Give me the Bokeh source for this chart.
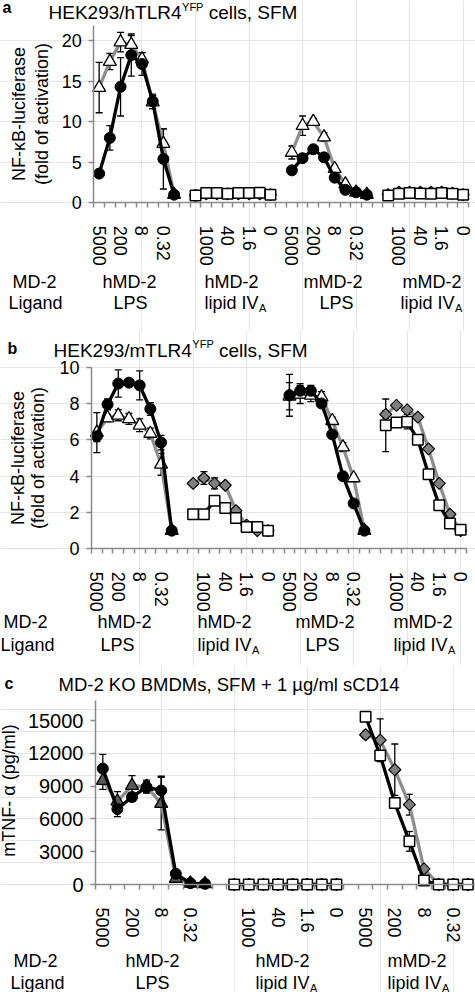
import math
from bokeh.plotting import figure
from bokeh.layouts import column
from bokeh.models import Range1d, FixedTicker, Label, Whisker, TeeHead, ColumnDataSource, LinearAxis
from bokeh.embed import file_html
from bokeh.resources import INLINE

FONT = "Liberation Sans"
GREY = "#8e8e8e"
AXGREY = "#8a8a8a"
W = 475
TEXT_DY = -4

# ---------------- data ----------------
conc_labels = ["5000", "1000", "200", "40", "8", "1.6", "0.32", "0"]

# panel a : HEK293/hTLR4
a_hlps_circ = [3.6, 8.0, 14.3, 18.2, 17.1, 12.5, 5.4, 1.0]
a_hlps_circ_err = [0.3, 1.5, 3.6, 2.6, 1.4, 0.9, 3.7, 0.1]
a_hlps_tri = [14.2, 17.4, 19.8, 19.5, 17.7, 12.4, 7.3, 1.0]
a_hlps_tri_err = [3.1, 1.0, 1.2, 1.1, 0.8, 0.8, 1.8, 0.1]
a_hlip_dia = [0.9, 1.1, 1.1, 1.1, 1.1, 1.1, 1.1, 1.0]
a_hlip_dia_err = [0.1, 0.1, 0.1, 0.1, 0.1, 0.1, 0.1, 0.1]
a_hlip_sq = [0.9, 1.2, 1.2, 1.1, 1.2, 1.2, 1.25, 1.0]
a_hlip_sq_err = [0.2, 0.2, 0.15, 0.2, 0.2, 0.15, 0.2, 0.15]
a_mlps_circ = [4.0, 5.5, 6.6, 5.6, 3.1, 1.6, 1.3, 1.0]
a_mlps_circ_err = [0.5, 0.4, 0.4, 0.4, 0.4, 0.3, 0.2, 0.1]
a_mlps_tri = [6.2, 9.5, 10.0, 8.1, 4.2, 2.3, 1.3, 1.0]
a_mlps_tri_err = [0.8, 1.2, 0.4, 0.5, 0.4, 0.3, 0.2, 0.1]
a_mlip_dia = [1.0, 1.3, 1.3, 1.3, 1.3, 1.3, 1.2, 1.0]
a_mlip_dia_err = [0.1, 0.1, 0.1, 0.1, 0.1, 0.1, 0.1, 0.1]
a_mlip_sq = [0.9, 1.1, 1.2, 1.15, 1.1, 1.2, 1.1, 1.0]
a_mlip_sq_err = [0.15, 0.15, 0.15, 0.15, 0.15, 0.15, 0.15, 0.1]

# panel b : HEK293/mTLR4
b_hlps_circ = [6.2, 7.95, 9.1, 9.15, 9.0, 7.7, 5.85, 1.0]
b_hlps_circ_err = [0.3, 0.3, 0.75, 0.1, 0.8, 0.35, 0.4, 0.05]
b_hlps_tri = [6.4, 7.2, 7.35, 7.15, 6.8, 6.35, 4.65, 1.0]
b_hlps_tri_err = [1.1, 0.2, 0.3, 0.3, 0.35, 0.3, 0.6, 0.05]
b_hlip_dia = [3.6, 3.9, 3.6, 3.5, 2.1, 1.3, 1.0, 1.0]
b_hlip_dia_err = [0.1, 0.35, 0.3, 0.1, 0.15, 0.1, 0.05, 0.05]
b_hlip_sq = [1.9, 1.9, 2.65, 2.25, 1.7, 1.2, 1.2, 1.0]
b_hlip_sq_err = [0.1, 0.1, 0.2, 0.1, 0.1, 0.1, 0.1, 0.05]
b_mlps_circ = [8.45, 8.7, 8.7, 8.0, 6.3, 4.0, 2.5, 1.0]
b_mlps_circ_err = [1.15, 0.4, 0.3, 0.2, 0.2, 0.15, 0.1, 0.05]
b_mlps_tri = [8.4, 8.5, 8.45, 8.35, 7.05, 5.6, 3.9, 1.0]
b_mlps_tri_err = [0.75, 0.5, 0.35, 0.3, 0.2, 0.25, 0.2, 0.05]
b_mlip_dia = [7.4, 7.9, 7.65, 7.25, 5.5, 3.6, 1.9, 1.0]
b_mlip_dia_err = [0.2, 0.1, 0.1, 0.1, 0.1, 0.1, 0.1, 0.05]
b_mlip_sq = [6.8, 6.95, 7.0, 6.0, 4.1, 2.4, 1.4, 1.05]
b_mlip_sq_err = [1.45, 0.1, 0.4, 0.1, 0.1, 0.1, 0.1, 0.05]

# panel c : MD-2 KO BMDMs (pg/ml)
c_hlps_circ = [10600, 6900, 8000, 8900, 8600, 980, 120, 60]
c_hlps_circ_err = [1300, 700, 400, 500, 1300, 300, 50, 50]
c_hlps_tri = [9500, 7600, 9050, 8950, 7400, 550, 100, 50]
c_hlps_tri_err = [800, 900, 900, 600, 2400, 300, 50, 50]
c_hlip_dia = [0, 0, 0, 0, 0, 0, 0, 0]
c_hlip_dia_err = [0, 0, 0, 0, 0, 0, 0, 0]
c_hlip_sq = [0, 0, 0, 0, 0, 0, 0, 0]
c_hlip_sq_err = [0, 0, 0, 0, 0, 0, 0, 0]
c_mlip_dia = [13700, 13200, 10500, 7300, 1430, 0, 0, 0]
c_mlip_dia_err = [300, 1950, 2350, 950, 200, 0, 0, 0]
c_mlip_sq = [15350, 11800, 7450, 3950, 370, 0, 0, 0]
c_mlip_sq_err = [300, 300, 300, 900, 100, 0, 0, 0]

a_yticks = [0, 5, 10, 15, 20]
b_yticks = [0, 2, 4, 6, 8, 10]
c_yticks = [0, 3000, 6000, 9000, 12000, 15000]

# ---------------- styles ----------------
STY = {
    "circ": dict(marker="circle", size=11, fill_color="black", line_color="black", line_width=1, lc="black"),
    "tri": dict(marker="triangle", size=13, fill_color="white", line_color="black", line_width=1.3, lc=GREY),
    "trid": dict(marker="triangle", size=13, fill_color="#5a5a5a", line_color="black", line_width=1.3, lc=GREY),
    "sq": dict(marker="square", size=10.5, fill_color="white", line_color="black", line_width=1.5, lc="black"),
    "dia": dict(marker="square", size=8.5, fill_color="#7f7f7f", line_color="black", line_width=1.2, lc=GREY,
                angle=math.pi / 4),
}

AW = {"H": .722, "E": .667, "K": .667, "2": .556, "9": .556, "3": .556, "/": .278, "h": .556, "m": .833,
      "T": .611, "L": .556, "R": .722, "4": .556, "Y": .667, "F": .611, "P": .667, "l": .222, "i": .222,
      "p": .556, "d": .556, " ": .278, "I": .278, "V": .667}


def tw(s, size):
    return sum(AW.get(ch, .556) for ch in s) * size


def make_panel(spec, groups, yticks, ytick_size, ylabels, title_parts, letter, rows, grp_labels):
    n_cat = spec["ncat"]
    FL, FR, FT, FB, ymax = spec["FL"], spec["FR"], spec["FT"], spec["FB"], spec["ymax"]
    top, bottom = spec["top"], spec["bottom"]
    H = bottom - top
    sx = (FR - FL) / n_cat          # px per category
    sy = (FB - FT) / ymax           # px per y unit
    x0 = 0.5 - FL / sx
    x1 = 0.5 + (W - FL) / sx
    y1 = (FB - top) / sy
    y0 = -(bottom - FB) / sy

    p = figure(frame_width=W, frame_height=H, min_border=0,
               x_range=Range1d(x0, x1), y_range=Range1d(y0, y1),
               x_axis_location=None, y_axis_location=None,
               toolbar_location=None, output_backend="svg")
    p.outline_line_color = None
    p.background_fill_color = "white"
    p.border_fill_color = "white"

    overrides = {}
    majors = []
    for start, series in groups:
        for j in range(8):
            k = start + j
            if k % 2 == 1:
                overrides[k] = conc_labels[j]
                majors.append(k)
        xs = [start + j for j in range(8)]
        for sty_key, vals, errs in series:
            st = STY[sty_key]
            src = ColumnDataSource(dict(x=xs, y=vals,
                                        upper=[v + e for v, e in zip(vals, errs)],
                                        lower=[v - e for v, e in zip(vals, errs)]))
            p.add_layout(Whisker(source=src, base="x", upper="upper", lower="lower",
                                 line_color="black", line_width=1.3,
                                 upper_head=TeeHead(size=7, line_width=1.3, line_color="black"),
                                 lower_head=TeeHead(size=7, line_width=1.3, line_color="black")))
            p.line("x", "y", source=src, line_color=st["lc"], line_width=3.3)
            kw = dict(marker=st["marker"], size=st["size"], fill_color=st["fill_color"],
                      line_color=st["line_color"], line_width=st["line_width"])
            if "angle" in st:
                kw["angle"] = st["angle"]
            p.scatter("x", "y", source=src, **kw)

    xa = LinearAxis(fixed_location=0, bounds=(0.5, n_cat + 0.5))
    xa.ticker = FixedTicker(ticks=majors, minor_ticks=[i + 0.5 for i in range(n_cat + 1)])
    xa.major_label_overrides = overrides
    xa.major_label_orientation = "vertical"
    xa.major_tick_out = 0
    xa.major_tick_in = 0
    xa.major_tick_line_color = None
    xa.minor_tick_out = 5
    xa.minor_tick_in = 0
    xa.minor_tick_line_color = AXGREY
    xa.minor_tick_line_width = 1.5
    xa.axis_line_color = AXGREY
    xa.axis_line_width = 1.5
    xa.major_label_standoff = 18
    xa.major_label_text_font = FONT
    xa.major_label_text_font_size = "18px"
    xa.major_label_text_color = "black"
    p.add_layout(xa, "below")

    ya = LinearAxis(fixed_location=0.5, bounds=(0, ymax))
    ya.ticker = FixedTicker(ticks=yticks, minor_ticks=[])
    ya.major_tick_out = 5
    ya.major_tick_in = 0
    ya.major_tick_line_color = AXGREY
    ya.major_tick_line_width = 1.5
    ya.minor_tick_line_color = None
    ya.axis_line_color = AXGREY
    ya.axis_line_width = 1.5
    ya.major_label_standoff = 7
    ya.major_label_text_font = FONT
    ya.major_label_text_font_size = f"{ytick_size}px"
    ya.major_label_text_color = "black"
    p.add_layout(ya, "left")

    def to_data(px, py):
        return 0.5 + (px - FL) / sx, (FB - py) / sy

    def lab(px, py, text, size=18, bold=False, angle=0.0, align="left", baseline="alphabetic"):
        if angle == 0.0:
            py = py + TEXT_DY
        dx, dy = to_data(px, py)
        p.add_layout(Label(x=dx, y=dy, text=text, text_font=FONT, text_font_size=f"{size}px",
                           text_font_style="bold" if bold else "normal", angle=angle,
                           text_align=align, text_baseline=baseline, text_color="black"))

    lx, ly = letter[1]
    lab(lx, ly, letter[0], size=16, bold=True)
    tx, ty, tsize, main, sup, rest = title_parts
    lab(tx, ty, main, size=tsize)
    if sup:
        w1 = tw(main, tsize)
        lab(tx + w1 + 0.5, ty - 6, sup, size=11)
        lab(tx + w1 + 0.5 + tw(sup, 11) + tw(" ", tsize), ty, rest, size=tsize)
    for (cx, cy, text) in ylabels:
        lab(cx, cy, text, angle=math.pi / 2, align="center", baseline="middle")
    for (px, py, text) in rows:
        lab(px, py, text)
    for (px, py, text) in grp_labels:
        lab(px, py, text)
        if text == "lipid IV":
            lab(px + tw(text, 18) + 0.5, py + 5, "A", size=11)
    return p


spec_a = dict(top=0, bottom=330, FL=93.3, FR=468, FT=25, FB=202.3, ncat=35, ymax=21.85)
spec_b = dict(top=330, bottom=665, FL=91, FR=465.5, FT=366.7, FB=548.3, ncat=35, ymax=10)
spec_c = dict(top=665, bottom=992, FL=95, FR=474.6, FT=700, FB=884, ncat=26, ymax=16830)

groups_a = [
    (1, [("tri", a_hlps_tri, a_hlps_tri_err), ("circ", a_hlps_circ, a_hlps_circ_err)]),
    (10, [("dia", a_hlip_dia, a_hlip_dia_err), ("sq", a_hlip_sq, a_hlip_sq_err)]),
    (19, [("tri", a_mlps_tri, a_mlps_tri_err), ("circ", a_mlps_circ, a_mlps_circ_err)]),
    (28, [("dia", a_mlip_dia, a_mlip_dia_err), ("sq", a_mlip_sq, a_mlip_sq_err)]),
]
groups_b = [
    (1, [("tri", b_hlps_tri, b_hlps_tri_err), ("circ", b_hlps_circ, b_hlps_circ_err)]),
    (10, [("dia", b_hlip_dia, b_hlip_dia_err), ("sq", b_hlip_sq, b_hlip_sq_err)]),
    (19, [("tri", b_mlps_tri, b_mlps_tri_err), ("circ", b_mlps_circ, b_mlps_circ_err)]),
    (28, [("dia", b_mlip_dia, b_mlip_dia_err), ("sq", b_mlip_sq, b_mlip_sq_err)]),
]
groups_c = [
    (1, [("trid", c_hlps_tri, c_hlps_tri_err), ("circ", c_hlps_circ, c_hlps_circ_err)]),
    (10, [("dia", c_hlip_dia, c_hlip_dia_err), ("sq", c_hlip_sq, c_hlip_sq_err)]),
    (19, [("dia", c_mlip_dia, c_mlip_dia_err), ("sq", c_mlip_sq, c_mlip_sq_err)]),
]

pa = make_panel(spec_a, groups_a, a_yticks, 18,
                [(18, 113.5, "NF-κB-luciferase"), (41, 113.5, "(fold of activation)")],
                (48, 16, 19, "HEK293/hTLR4", "YFP", "cells, SFM"), ("a", (2, 11)),
                [(12, 285, "MD-2"), (8, 306, "Ligand")],
                [(102, 285, "hMD-2"), (113, 306, "LPS"), (204, 285, "hMD-2"), (204, 306, "lipid IV"),
                 (303, 285, "mMD-2"), (319, 306, "LPS"), (402, 285, "mMD-2"), (400, 306, "lipid IV")])
pb = make_panel(spec_b, groups_b, b_yticks, 18,
                [(17.5, 457.5, "NF-κB-luciferase"), (37, 457.5, "(fold of activation)")],
                (53, 353.5, 19, "HEK293/mTLR4", "YFP", "cells, SFM"), ("b", (7, 352)),
                [(3, 625, "MD-2"), (0, 648, "Ligand")],
                [(97, 625, "hMD-2"), (100, 648, "LPS"), (197, 625, "hMD-2"), (197, 648, "lipid IV"),
                 (295, 625, "mMD-2"), (305, 648, "LPS"), (393, 625, "mMD-2"), (393, 648, "lipid IV")])
pc = make_panel(spec_c, groups_c, c_yticks, 20,
                [(8, 790, "mTNF- α (pg/ml)")],
                (58, 688, 18.5, "MD-2 KO BMDMs, SFM + 1 µg/ml sCD14", "", ""), ("c", (4, 687)),
                [(13, 964, "MD-2"), (10, 986, "Ligand")],
                [(125, 964, "hMD-2"), (135, 986, "LPS"), (255, 964, "hMD-2"), (255, 986, "lipid IV"),
                 (387, 964, "mMD-2"), (387, 986, "lipid IV")])

layout = column(pa, pb, pc, spacing=0)
open("out.html", "w").write(file_html(layout, INLINE))
